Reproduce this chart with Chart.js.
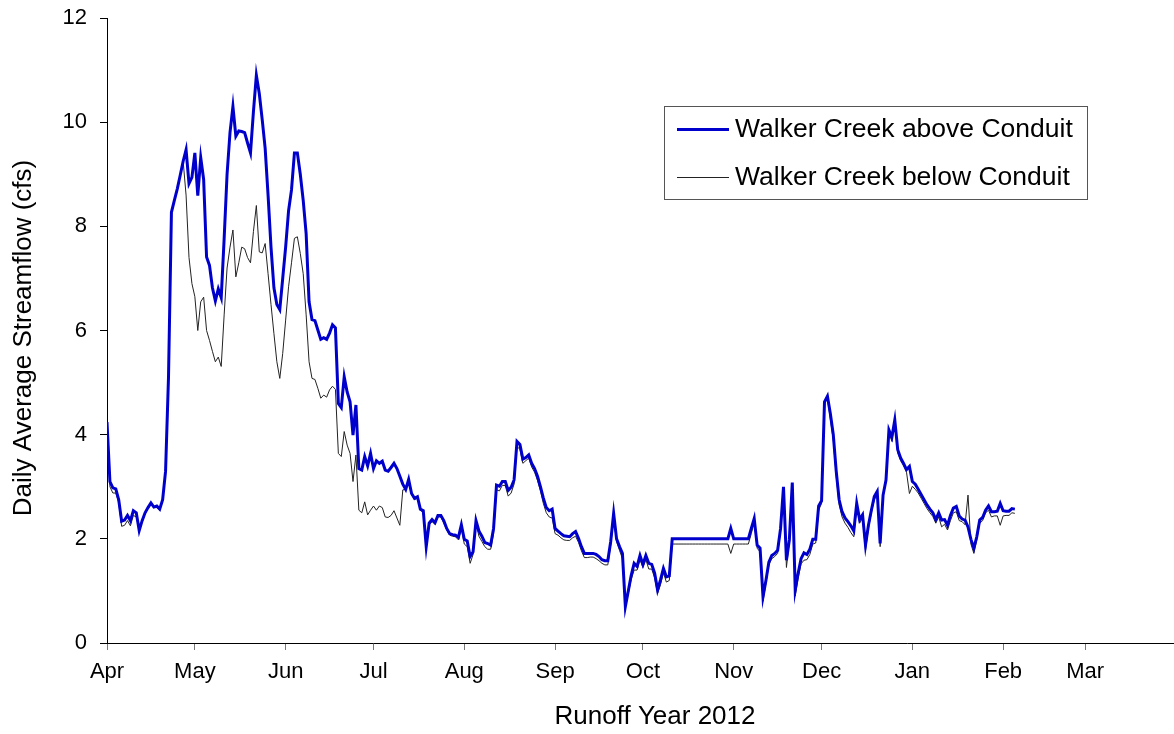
<!DOCTYPE html>
<html>
<head>
<meta charset="utf-8">
<script src="https://cdn.jsdelivr.net/npm/chart.js@4.4.1/dist/chart.umd.min.js"></script>
<style>
html,body{margin:0;padding:0;background:#fff;}
#wrap{width:1174px;height:734px;position:relative;}
</style>
</head>
<body>
<div id="wrap"><canvas id="c"></canvas></div>
<script>
// Day offsets (from Apr 1) of month starts and their labels
const monthStarts = [0, 30, 61, 91, 122, 153, 183, 214, 244, 275, 306, 334];
const monthLabels = ['Apr','May','Jun','Jul','Aug','Sep','Oct','Nov','Dec','Jan','Feb','Mar'];
const seriesNames = ['Walker Creek above Conduit', 'Walker Creek below Conduit'];
const xTitle = 'Runoff Year 2012';
const yTitle = 'Daily Average Streamflow (cfs)';

// Daily values, day 0 = Apr 1
const aboveConduit = [
4.24,3.10,2.98,2.96,2.75,2.34,2.36,2.45,2.35,2.54,
2.50,2.16,2.35,2.50,2.60,2.69,2.61,2.63,2.57,2.75,
3.30,5.10,8.27,8.50,8.72,8.98,9.25,9.47,8.82,8.94,
9.41,8.59,9.32,8.90,7.41,7.25,6.82,6.57,6.80,6.63,
7.76,9.00,9.80,10.30,9.73,9.83,9.82,9.80,9.60,9.41,
10.20,10.90,10.55,10.05,9.50,8.60,7.60,6.82,6.50,6.40,
7.00,7.60,8.30,8.70,9.41,9.41,9.00,8.50,7.86,6.55,
6.21,6.19,6.01,5.83,5.86,5.83,5.95,6.11,6.05,4.60,
4.52,5.11,4.82,4.63,3.99,4.57,3.35,3.32,3.58,3.40,
3.64,3.35,3.50,3.45,3.49,3.32,3.30,3.37,3.45,3.35,
3.20,3.05,2.95,3.14,2.87,2.78,2.81,2.57,2.54,1.85,
2.30,2.37,2.31,2.45,2.45,2.35,2.20,2.10,2.08,2.07,
2.03,2.27,1.99,1.96,1.66,1.75,2.35,2.15,2.05,1.93,
1.91,1.88,2.20,3.03,3.01,3.10,3.10,2.93,2.99,3.13,
3.87,3.81,3.53,3.56,3.61,3.45,3.35,3.20,3.00,2.78,
2.60,2.54,2.57,2.20,2.15,2.10,2.06,2.05,2.04,2.10,
2.14,2.01,1.85,1.72,1.72,1.72,1.72,1.70,1.66,1.60,
1.58,1.58,1.95,2.49,2.00,1.85,1.72,0.70,1.00,1.30,
1.53,1.47,1.68,1.51,1.68,1.53,1.51,1.34,1.02,1.21,
1.43,1.27,1.29,2.00,2.00,2.00,2.00,2.00,2.00,2.00,
2.00,2.00,2.00,2.00,2.00,2.00,2.00,2.00,2.00,2.00,
2.00,2.00,2.00,2.20,2.00,2.00,2.00,2.00,2.00,2.00,
2.20,2.39,1.88,1.82,0.89,1.20,1.55,1.68,1.72,1.78,
2.20,3.00,1.59,1.98,3.08,1.02,1.34,1.62,1.73,1.70,
1.80,1.99,1.99,2.63,2.73,4.63,4.74,4.40,4.00,3.30,
2.75,2.52,2.40,2.33,2.25,2.15,2.68,2.37,2.46,1.88,
2.26,2.55,2.81,2.91,1.91,2.84,3.13,4.09,3.95,4.28,
3.71,3.55,3.45,3.33,3.39,3.10,3.05,2.95,2.85,2.75,
2.65,2.57,2.50,2.37,2.50,2.36,2.37,2.26,2.45,2.59,
2.62,2.44,2.38,2.36,2.23,1.99,1.82,2.04,2.36,2.41,
2.55,2.63,2.52,2.52,2.53,2.68,2.54,2.53,2.53,2.58,
2.57
];
const belowConduit = [
4.20,3.00,2.88,2.88,2.70,2.24,2.26,2.35,2.25,2.45,
2.42,2.20,2.32,2.48,2.58,2.67,2.60,2.60,2.55,2.73,
3.30,5.10,8.27,8.50,8.72,8.98,9.25,8.60,7.40,6.90,
6.65,6.00,6.55,6.64,6.00,5.81,5.60,5.40,5.49,5.31,
6.30,7.20,7.60,7.93,7.03,7.30,7.60,7.57,7.40,7.30,
7.90,8.40,7.51,7.49,7.67,7.09,6.50,5.94,5.40,5.08,
5.56,6.20,6.84,7.30,7.77,7.80,7.48,7.09,6.30,5.40,
5.08,5.06,4.89,4.70,4.76,4.72,4.86,4.93,4.87,3.64,
3.58,4.06,3.80,3.64,3.10,3.61,2.55,2.50,2.71,2.46,
2.55,2.63,2.55,2.63,2.60,2.42,2.41,2.45,2.54,2.40,
2.26,2.94,2.95,3.10,2.85,2.75,2.78,2.55,2.50,1.82,
2.27,2.33,2.28,2.42,2.42,2.30,2.17,2.07,2.05,2.04,
1.98,2.20,1.90,1.85,1.53,1.70,2.30,2.05,1.95,1.85,
1.80,1.80,2.10,2.94,2.92,3.03,3.02,2.82,2.88,3.05,
3.77,3.72,3.45,3.50,3.55,3.38,3.28,3.12,2.92,2.68,
2.50,2.42,2.40,2.10,2.07,2.02,1.98,1.97,1.97,2.02,
2.05,1.93,1.77,1.64,1.64,1.65,1.65,1.62,1.58,1.53,
1.50,1.50,1.88,2.42,1.95,1.78,1.62,0.68,0.95,1.22,
1.40,1.40,1.60,1.45,1.60,1.42,1.42,1.25,0.95,1.12,
1.35,1.17,1.20,1.90,1.90,1.90,1.90,1.90,1.90,1.90,
1.90,1.90,1.90,1.90,1.90,1.90,1.90,1.90,1.90,1.90,
1.90,1.90,1.90,1.72,1.90,1.90,1.90,1.90,1.90,1.90,
2.10,2.32,1.82,1.75,0.80,1.15,1.50,1.62,1.66,1.72,
2.15,2.95,1.45,1.95,3.00,0.90,1.25,1.52,1.59,1.60,
1.70,1.90,1.92,2.55,2.68,4.60,4.70,4.30,3.90,3.20,
2.65,2.42,2.30,2.22,2.12,2.04,2.62,2.30,2.40,1.78,
2.20,2.50,2.75,2.85,1.85,2.80,3.10,4.05,3.87,4.25,
3.65,3.50,3.40,3.28,2.87,3.01,2.95,2.88,2.78,2.68,
2.58,2.50,2.43,2.30,2.42,2.23,2.28,2.17,2.35,2.50,
2.52,2.35,2.33,2.27,2.84,1.90,1.72,1.98,2.30,2.35,
2.50,2.55,2.42,2.44,2.44,2.26,2.44,2.45,2.45,2.50,
2.49
];

const FONT = "'Liberation Sans', Arial, Helvetica, sans-serif";
Chart.defaults.font.family = FONT;
Chart.defaults.color = '#000';

const toPoints = arr => arr.map((v, i) => ({x: i, y: v}));

// Custom legend and axis titles drawn onto the canvas
const decorPlugin = {
  id: 'decor',
  afterDraw(chart) {
    const ctx = chart.ctx;
    const ds = chart.data.datasets;
    ctx.save();
    // legend box
    ctx.fillStyle = '#fff';
    ctx.fillRect(664, 106, 424, 94);
    ctx.strokeStyle = '#555';
    ctx.lineWidth = 1;
    ctx.strokeRect(664.5, 106.5, 423, 93);
    const rows = [129.5, 177.5];
    ds.forEach((d, i) => {
      ctx.strokeStyle = d.borderColor;
      ctx.lineWidth = d.borderWidth;
      ctx.beginPath();
      ctx.moveTo(677, rows[i]);
      ctx.lineTo(729, rows[i]);
      ctx.stroke();
      ctx.fillStyle = '#000';
      ctx.font = '26.5px ' + FONT;
      ctx.textAlign = 'left';
      ctx.textBaseline = 'middle';
      ctx.fillText(d.label, 735, rows[i]);
    });
    // axis titles
    ctx.font = '26px ' + FONT;
    ctx.textAlign = 'center';
    ctx.textBaseline = 'middle';
    ctx.fillText(xTitle, 655, 717);
    ctx.translate(24, 338);
    ctx.rotate(-Math.PI / 2);
    ctx.fillText(yTitle, 0, 0);
    ctx.restore();
  }
};

new Chart(document.getElementById('c'), {
  type: 'line',
  data: {
    datasets: [
      {
        label: seriesNames[0],
        data: toPoints(aboveConduit),
        borderColor: '#0000CC',
        borderWidth: 3,
        pointRadius: 0,
        tension: 0,
        fill: false
      },
      {
        label: seriesNames[1],
        data: toPoints(belowConduit),
        borderColor: '#222222',
        borderWidth: 1,
        pointRadius: 0,
        tension: 0,
        fill: false
      }
    ]
  },
  options: {
    responsive: true,
    maintainAspectRatio: false,
    animation: false,
    devicePixelRatio: 1,
    layout: { padding: { top: 18, right: 1, left: 0, bottom: 0 } },
    plugins: {
      legend: { display: false },
      tooltip: { enabled: false },
      title: { display: false }
    },
    scales: {
      x: {
        type: 'linear',
        min: 0,
        max: 364,
        afterBuildTicks: s => { s.ticks = monthStarts.map(v => ({ value: v })); },
        afterFit: s => { s.height = 91; s.paddingLeft = 0; s.paddingRight = 0; },
        ticks: {
          autoSkip: false,
          maxRotation: 0,
          minRotation: 0,
          padding: 9,
          font: { size: 22 },
          color: '#000',
          callback: (v, i) => monthLabels[i]
        },
        grid: { drawOnChartArea: false, drawTicks: true, tickLength: 7, color: '#777' },
        border: { display: true, color: '#000', width: 1 }
      },
      y: {
        min: 0,
        max: 12,
        afterFit: s => { s.width = 107; s.paddingTop = 0; s.paddingBottom = 0; },
        ticks: {
          stepSize: 2,
          padding: 13,
          font: { size: 22 },
          color: '#000'
        },
        grid: { drawOnChartArea: false, drawTicks: true, tickLength: 7, color: '#000' },
        border: { display: true, color: '#000', width: 1 }
      }
    }
  },
  plugins: [decorPlugin]
});
</script>
</body>
</html>
